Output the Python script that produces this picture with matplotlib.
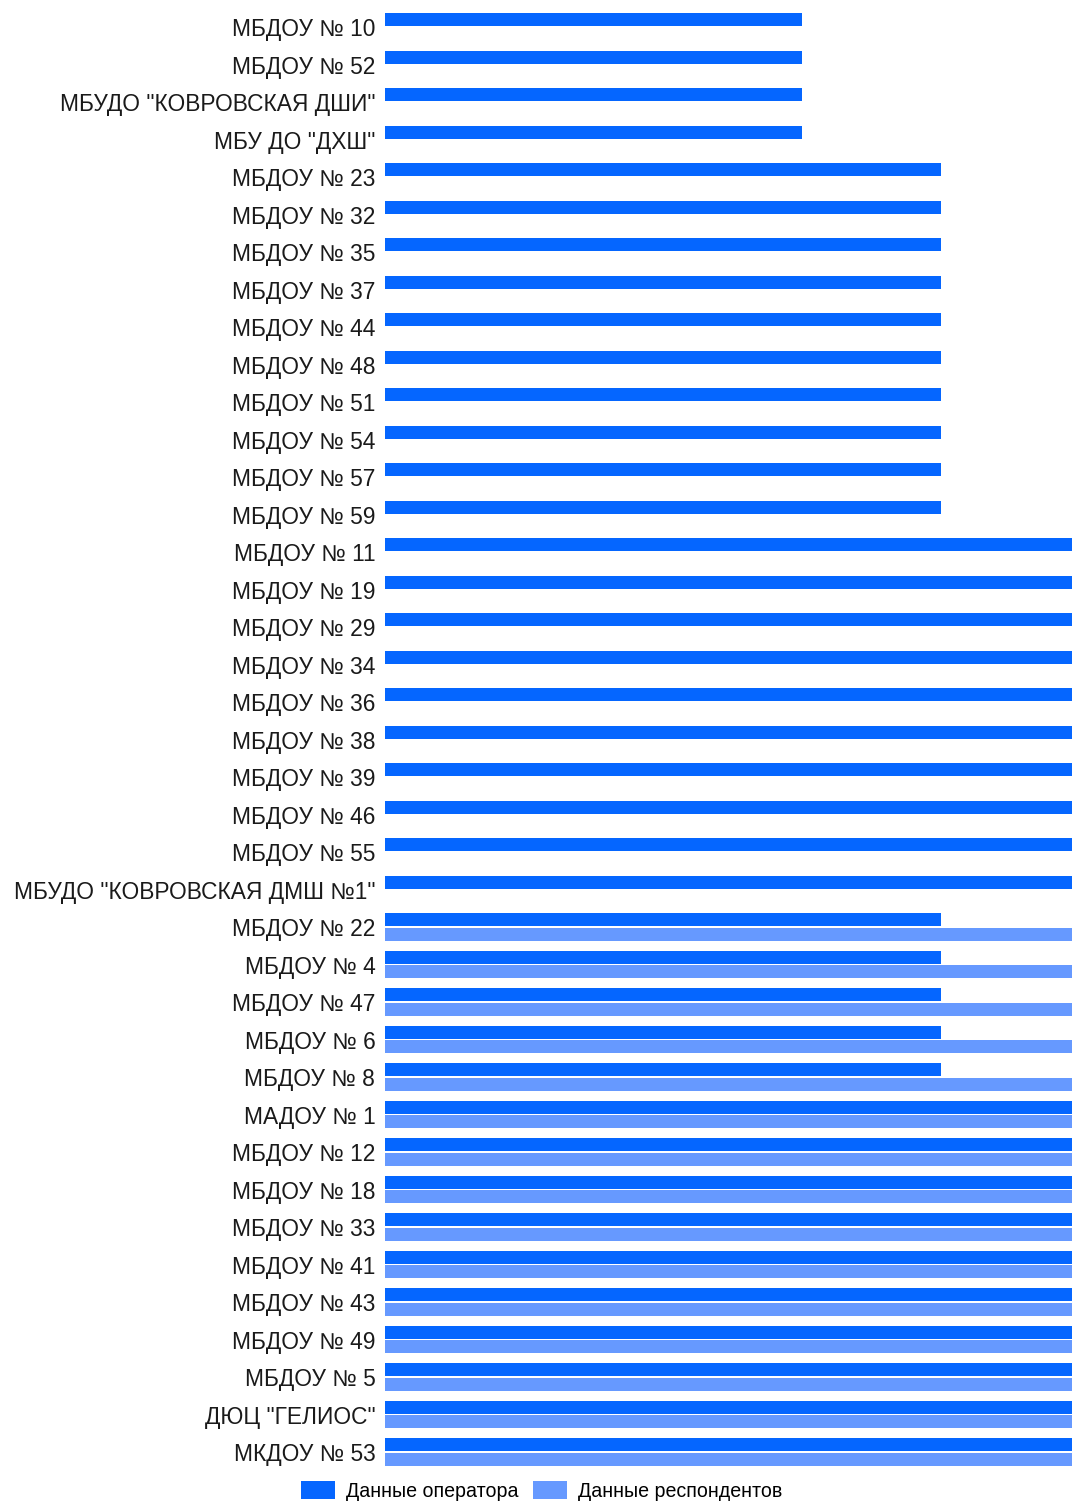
import matplotlib
matplotlib.use("Agg")
import matplotlib.pyplot as plt
import numpy as np

plt.rcParams['font.family'] = ['Liberation Sans', 'DejaVu Sans']

categories = [
    'МБДОУ № 10', 'МБДОУ № 52', 'МБУДО "КОВРОВСКАЯ ДШИ"', 'МБУ ДО "ДХШ"',
    'МБДОУ № 23', 'МБДОУ № 32', 'МБДОУ № 35', 'МБДОУ № 37', 'МБДОУ № 44',
    'МБДОУ № 48', 'МБДОУ № 51', 'МБДОУ № 54', 'МБДОУ № 57', 'МБДОУ № 59',
    'МБДОУ № 11', 'МБДОУ № 19', 'МБДОУ № 29', 'МБДОУ № 34', 'МБДОУ № 36',
    'МБДОУ № 38', 'МБДОУ № 39', 'МБДОУ № 46', 'МБДОУ № 55',
    'МБУДО "КОВРОВСКАЯ ДМШ №1"',
    'МБДОУ № 22', 'МБДОУ № 4', 'МБДОУ № 47', 'МБДОУ № 6', 'МБДОУ № 8',
    'МАДОУ № 1', 'МБДОУ № 12', 'МБДОУ № 18', 'МБДОУ № 33', 'МБДОУ № 41',
    'МБДОУ № 43', 'МБДОУ № 49', 'МБДОУ № 5', 'ДЮЦ "ГЕЛИОС"', 'МКДОУ № 53',
]
operator = [6, 6, 6, 6,
            8, 8, 8, 8, 8, 8, 8, 8, 8, 8,
            10, 10, 10, 10, 10, 10, 10, 10, 10, 10,
            8, 8, 8, 8, 8,
            10, 10, 10, 10, 10, 10, 10, 10, 10, 10]
respondents = [0] * 24 + [10] * 15
legend_labels = ['Данные оператора', 'Данные респондентов']

op_color = '#0566ff'
resp_color = '#6699ff'

W, H = 1072, 1504
fig = plt.figure(figsize=(W / 100, H / 100), dpi=100)
ax = fig.add_axes([385 / W, 0.0221, 1 - 385 / W, 0.9945 - 0.0221])

y = np.arange(len(categories))
h = 0.347
off = 0.02 + h / 2
b1 = ax.barh(y - off, operator, height=h, color=op_color, label=legend_labels[0])
b2 = ax.barh(y + off, respondents, height=h, color=resp_color, label=legend_labels[1])

ax.set_xlim(0, (W - 385) / 69.5)
ax.set_ylim(len(categories) - 0.5, -0.5)
ax.set_yticks(y)
ax.set_yticklabels(categories, fontsize=16.4, color='#1a1a1a')
ax.tick_params(axis='y', length=0, pad=7)
ax.set_xticks([])
for s in ax.spines.values():
    s.set_visible(False)

fig.legend(handles=[b1, b2], labels=legend_labels, loc='center',
           bbox_to_anchor=(0.505, 1 - 1491 / H), ncol=2, frameon=False, fontsize=14.1,
           handlelength=1.75, handleheight=1.05, columnspacing=0.75, handletextpad=0.55,
           borderpad=0.0)

fig.savefig('out.png', dpi=100)
